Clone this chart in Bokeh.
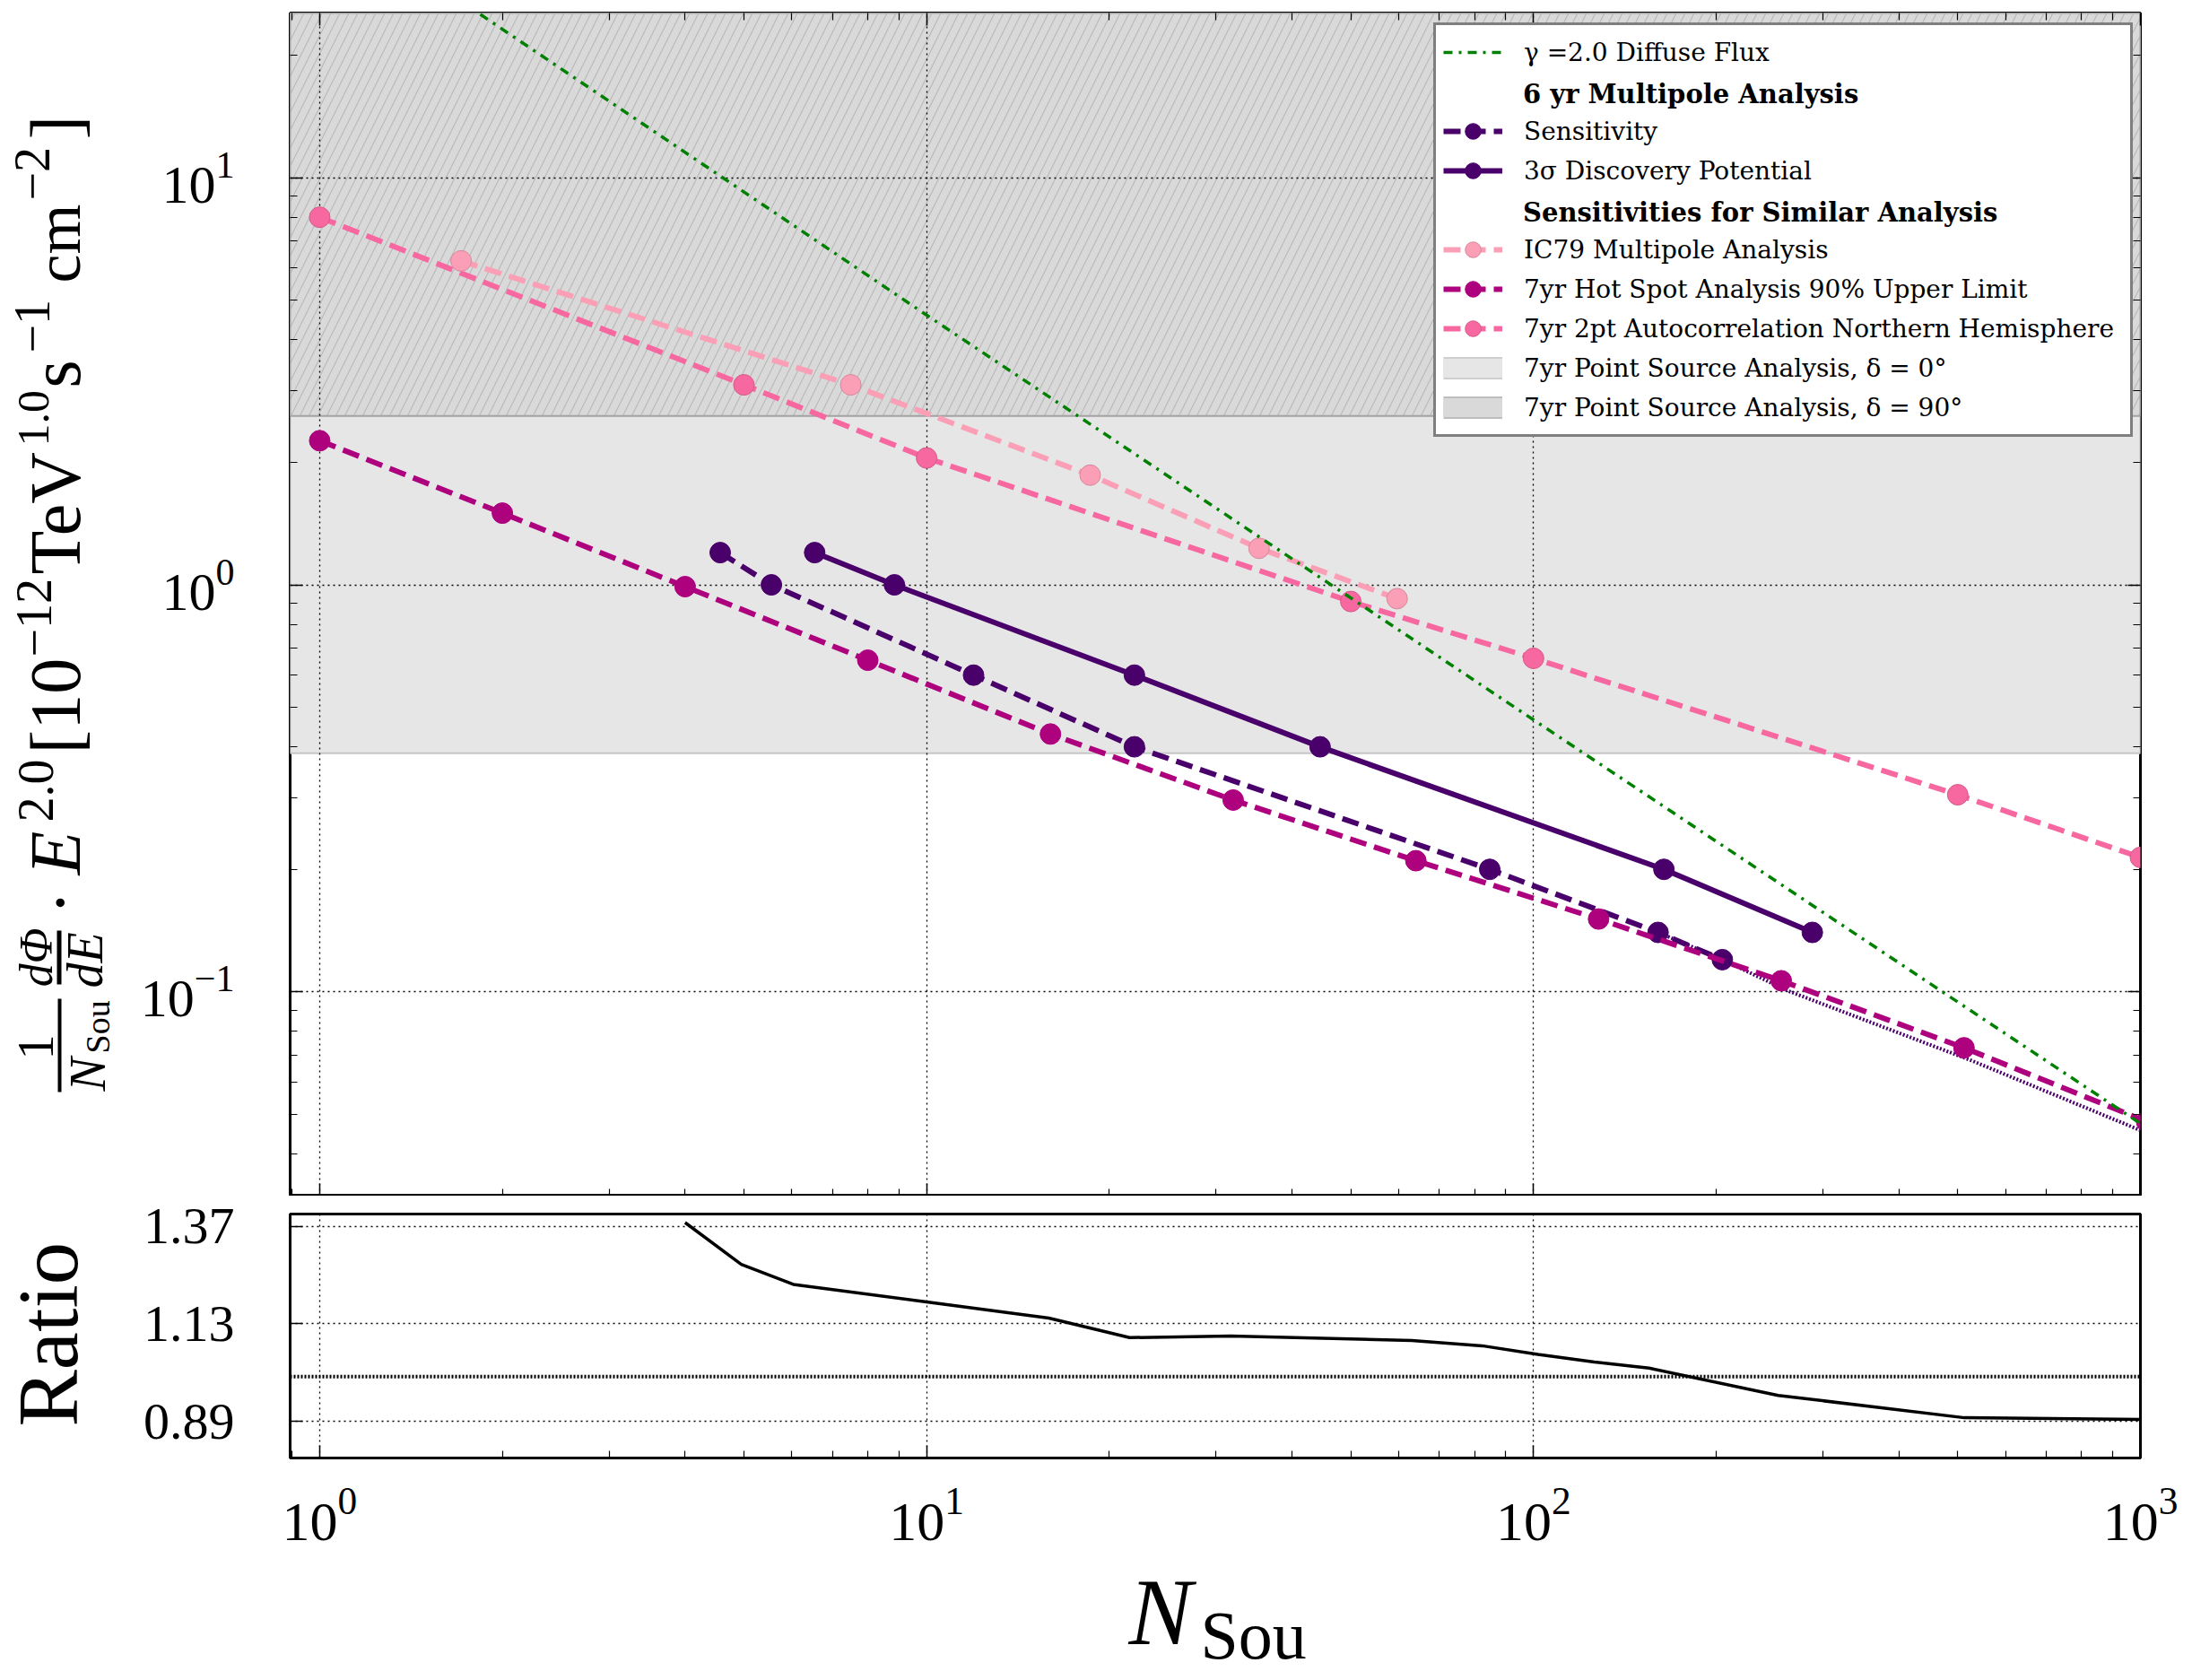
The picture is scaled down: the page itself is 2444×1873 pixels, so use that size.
import numpy as np
from bokeh.plotting import figure
from bokeh.models import (Range1d, FixedTicker, LogAxis, Legend, LegendItem,
                          Label, BoxAnnotation, Span)
from bokeh.layouts import column, row
from bokeh.embed import file_html
from bokeh.resources import INLINE

# ------------------------------------------------------------------ data
diffuse_n = [1, 10, 100, 1000]
diffuse_flux = [46.5, 4.6, 0.466, 0.0475]

sens_n = [4.57, 5.55, 11.95, 22.0, 84.7, 160.4, 204.7]
sens_flux = [1.2, 1.0, 0.6, 0.4, 0.2, 0.14, 0.12]
sens_ext_n = [160.4, 204.7, 263.0, 527.0, 1000.0]
sens_ext_flux = [0.14, 0.12, 0.1005, 0.0678, 0.0457]

disc_n = [6.54, 8.85, 22.0, 44.5, 164.0, 288.0]
disc_flux = [1.2, 1.0, 0.6, 0.4, 0.2, 0.14]

ic79_n = [1.71, 7.5, 18.6, 35.3, 59.6]
ic79_flux = [6.25, 3.10, 1.86, 1.23, 0.925]

hot_n = [1, 2, 4, 8, 16, 32, 64, 128, 256, 512, 1024]
hot_flux = [2.26, 1.50, 0.99, 0.653, 0.43, 0.296, 0.21, 0.151, 0.1065, 0.0729, 0.048]

twopt_n = [1, 5, 10, 50, 100, 500, 1000]
twopt_flux = [8.0, 3.10, 2.05, 0.91, 0.66, 0.305, 0.214]

ps0_flux = 0.386
ps90_flux = 2.6

ratio_n = [4.0, 4.95, 6.03, 10.0, 15.9, 21.6, 31.7, 63.0, 82.3, 101.7, 126.0, 155.0, 253.0, 513.0, 1000.0]
ratio_val = [1.379, 1.276, 1.227, 1.184, 1.144, 1.096, 1.100, 1.089, 1.076, 1.055, 1.036, 1.021, 0.954, 0.899, 0.895]
ratio_ref = 1.0

x_lim = (0.894, 1000.0)
y_lim = (0.0315, 25.4)
ratio_lim = (0.80, 1.40)
x_major = [1, 10, 100, 1000]
y_major = [0.1, 1, 10]
ratio_ticks = [0.89, 1.13, 1.37]
x_minor = [m * 10.0 ** e for e in range(-1, 3) for m in range(2, 10)]
y_minor = [m * 10.0 ** e for e in range(-2, 2) for m in range(2, 10)]

C_PURPLE = "#49006a"
C_HOT = "#ae017e"
C_2PT = "#f768a1"
C_IC79 = "#fa9fb5"
C_GREEN = "#008000"

SERIF = "Liberation Serif"
LEG_FONT = "DejaVu Serif"

LW = 130          # width of the column holding the rotated axis titles
MAIN_H = 1333
RATIO_H = 402
LEFT_H = MAIN_H + RATIO_H
XLAB_H = 135
TOTAL_W = 2436


def style_axis(ax, ticks, minor, labels=True, size="60px", standoff=10):
    ax.ticker = FixedTicker(ticks=ticks, minor_ticks=minor)
    ax.axis_line_color = None
    ax.major_tick_in = 14
    ax.major_tick_out = 0
    ax.minor_tick_in = 8
    ax.minor_tick_out = 0
    ax.major_tick_line_color = "black"
    ax.minor_tick_line_color = "black"
    ax.major_tick_line_width = 1.5
    ax.minor_tick_line_width = 1.2
    if labels:
        ax.major_label_text_font = SERIF
        ax.major_label_text_font_size = size
        ax.major_label_text_color = "black"
        ax.major_label_standoff = standoff
    else:
        ax.major_label_text_font_size = "1px"
        ax.major_label_text_alpha = 0.0
        ax.major_label_standoff = 0


def text_fig(w, h):
    f = figure(width=w, height=h, x_range=Range1d(0, w), y_range=Range1d(0, h),
               x_axis_location=None, y_axis_location=None, min_border=0,
               output_backend="svg", toolbar_location=None)
    f.grid.visible = False
    f.outline_line_color = None
    return f


def add_label(fig, text, x, y, size, style="normal", angle=0.0, align="left",
              font=SERIF):
    fig.add_layout(Label(x=x, y=y, text=text, text_font=font,
                         text_font_size=f"{size}px", text_font_style=style,
                         text_color="black", angle=angle, text_align=align,
                         text_baseline="middle"))


# ------------------------------------------------------------------ main plot
x_range = Range1d(*x_lim)
p = figure(width=TOTAL_W - LW, height=MAIN_H, x_axis_type="log", y_axis_type="log",
           x_range=x_range, y_range=Range1d(*y_lim),
           output_backend="svg", toolbar_location=None,
           min_border_left=323 - LW, min_border_right=50, min_border_top=14,
           min_border_bottom=0)
p.outline_line_color = "black"
p.outline_line_width = 3
p.outline_line_alpha = 1.0

style_axis(p.xaxis[0], x_major, x_minor, labels=False)
style_axis(p.yaxis[0], y_major, y_minor, labels=True, size="60px", standoff=62)
top_ax = LogAxis()
style_axis(top_ax, x_major, x_minor, labels=False)
p.add_layout(top_ax, "above")
right_ax = LogAxis()
style_axis(right_ax, y_major, y_minor, labels=False)
p.add_layout(right_ax, "right")

p.xgrid[0].ticker = FixedTicker(ticks=x_major)
p.ygrid[0].ticker = FixedTicker(ticks=y_major)
for g in (p.xgrid[0], p.ygrid[0]):
    g.grid_line_color = "black"
    g.grid_line_dash = "2 4"
    g.grid_line_width = 1.3
    g.grid_line_alpha = 1.0

# sensitivity bands of the point source analysis
band_x = [x_lim[0], x_lim[1], x_lim[1], x_lim[0]]
b0 = p.patch(x=band_x, y=[ps0_flux, ps0_flux, y_lim[1], y_lim[1]],
             fill_color="#e6e6e6", line_color="#c6c6c6", line_width=2)
b0.level = "image"
b90 = p.patch(x=band_x, y=[ps90_flux, ps90_flux, y_lim[1], y_lim[1]],
              fill_color="#d9d9d9", hatch_pattern="/", hatch_color="#b9b9b9",
              hatch_scale=20, hatch_weight=1.2, line_color="#a3a3a3", line_width=2)
b90.level = "image"

# series
r_ext = p.line(sens_ext_n, sens_ext_flux, line_color=C_PURPLE, line_width=4, line_dash="2 2")
r_sens_l = p.line(sens_n, sens_flux, line_color=C_PURPLE, line_width=6, line_dash="19 9")
r_sens_p = p.scatter(sens_n, sens_flux, size=23, color=C_PURPLE)
r_disc_l = p.line(disc_n, disc_flux, line_color=C_PURPLE, line_width=6)
r_disc_p = p.scatter(disc_n, disc_flux, size=23, color=C_PURPLE)
r_hot_l = p.line(hot_n, hot_flux, line_color=C_HOT, line_width=6, line_dash="19 9")
r_hot_p = p.scatter(hot_n, hot_flux, size=23, color=C_HOT)
r_2pt_l = p.line(twopt_n, twopt_flux, line_color=C_2PT, line_width=6, line_dash="19 9")
r_2pt_p = p.scatter(twopt_n, twopt_flux, size=23, fill_color=C_2PT, line_color="#d45a88")
r_ic_l = p.line(ic79_n, ic79_flux, line_color=C_IC79, line_width=6, line_dash="19 9")
r_ic_p = p.scatter(ic79_n, ic79_flux, size=23, fill_color=C_IC79, line_color="#d8889a")
r_diff = p.line(diffuse_n, diffuse_flux, line_color=C_GREEN, line_width=3.5, line_dash="10 7 3 7")

# legend-only samples
blank = p.line(x=[1], y=[1], line_alpha=0)
ps0_edge = p.line(x=[1], y=[1], line_color="#cfcfcf", line_width=25)
ps0_leg = p.line(x=[1], y=[1], line_color="#e6e6e6", line_width=21)
ps90_edge = p.line(x=[1], y=[1], line_color="#bdbdbd", line_width=25)
ps90_leg = p.line(x=[1], y=[1], line_color="#d9d9d9", line_width=21)

LEG_COMMON = dict(orientation="vertical", padding=8, spacing=0, margin=0,
                  glyph_width=66, glyph_height=44, label_height=44, label_standoff=24,
                  label_text_font=LEG_FONT, label_text_color="black")

items = [
    LegendItem(label="γ =2.0 Diffuse Flux", renderers=[r_diff]),
    LegendItem(label=" ", renderers=[blank]),
    LegendItem(label="Sensitivity", renderers=[r_sens_l, r_sens_p]),
    LegendItem(label="3σ Discovery Potential", renderers=[r_disc_l, r_disc_p]),
    LegendItem(label=" ", renderers=[blank]),
    LegendItem(label="IC79 Multipole Analysis", renderers=[r_ic_l, r_ic_p]),
    LegendItem(label="7yr Hot Spot Analysis 90% Upper Limit", renderers=[r_hot_l, r_hot_p]),
    LegendItem(label="7yr 2pt Autocorrelation Northern Hemisphere", renderers=[r_2pt_l, r_2pt_p]),
    LegendItem(label="7yr Point Source Analysis, δ = 0°", renderers=[ps0_edge, ps0_leg]),
    LegendItem(label="7yr Point Source Analysis, δ = 90°", renderers=[ps90_edge, ps90_leg]),
]
legend = Legend(items=items, location=(1275, 846), label_width=668,
                label_text_font_size="28px", border_line_color="black",
                border_line_width=3, background_fill_color="white",
                background_fill_alpha=1.0, **LEG_COMMON)
p.add_layout(legend)

# transparent overlay legend carrying the bold section headings on rows 2 and 5
head_items = [
    LegendItem(label=" ", renderers=[blank]),
    LegendItem(label="6 yr Multipole Analysis", renderers=[blank]),
    LegendItem(label=" ", renderers=[blank]),
    LegendItem(label=" ", renderers=[blank]),
    LegendItem(label="Sensitivities for Similar Analysis", renderers=[blank]),
]
head_legend = Legend(items=head_items, location=(1285, 1074), label_width=10,
                     label_text_font_size="29px", label_text_font_style="bold",
                     border_line_color=None, background_fill_alpha=0.0, **LEG_COMMON)
p.add_layout(head_legend)

# ------------------------------------------------------------------ left title column
# (x = distance from the page's left edge, y = distance from the top of the page)
A = np.pi / 2
lf = text_fig(LW, LEFT_H)
ylabel_parts = [
    ("1", 39, 1167, 56, "normal", "center"),
    ("N", 97, 1216, 56, "italic", "left"),
    ("Sou", 108, 1174, 38, "normal", "left"),
    ("dΦ", 40, 1067, 52, "italic", "center"),
    ("dE", 94, 1070, 56, "italic", "center"),
    ("·", 66, 1006, 80, "normal", "center"),
    ("E", 61, 975, 80, "italic", "left"),
    ("2.0", 39, 916, 56, "normal", "left"),
    ("[10", 61, 840, 80, "normal", "left"),
    ("−12", 37, 732, 56, "normal", "left"),
    ("TeV", 61, 640, 80, "normal", "left"),
    ("1.0", 37, 497, 50, "normal", "left"),
    ("s", 61, 432, 80, "normal", "left"),
    ("−1", 35, 393, 56, "normal", "left"),
    ("cm", 64, 315, 72, "normal", "left"),
    ("−2", 35, 223, 56, "normal", "left"),
    ("]", 61, 155, 80, "normal", "left"),
    ("Ratio", 53, 1590, 95, "normal", "left"),
]
for txt, lx, ly, fs, st, al in ylabel_parts:
    add_label(lf, txt, lx, LEFT_H - ly, fs, st, angle=A, align=al)
for (bl, br, bt, bb) in [(64, 68, 1113, 1217), (63, 68, 1037, 1097)]:
    lf.add_layout(BoxAnnotation(left=bl, right=br, top=LEFT_H - bt, bottom=LEFT_H - bb,
                                fill_color="black", fill_alpha=1.0, line_color=None))

# ------------------------------------------------------------------ ratio plot
r = figure(width=TOTAL_W - LW, height=RATIO_H, x_axis_type="log", x_range=x_range,
           y_range=Range1d(*ratio_lim), output_backend="svg", toolbar_location=None,
           min_border_left=323 - LW, min_border_right=50, min_border_top=20,
           min_border_bottom=RATIO_H - 20 - 272)
r.outline_line_color = "black"
r.outline_line_width = 3
style_axis(r.xaxis[0], x_major, x_minor, labels=True, size="62px", standoff=34)
style_axis(r.yaxis[0], ratio_ticks, [], labels=True, size="58px", standoff=62)
r.xgrid[0].ticker = FixedTicker(ticks=x_major)
r.ygrid[0].ticker = FixedTicker(ticks=ratio_ticks)
for g in (r.xgrid[0], r.ygrid[0]):
    g.grid_line_color = "black"
    g.grid_line_dash = "2 4"
    g.grid_line_width = 1.3
r.add_layout(Span(location=ratio_ref, dimension="width", line_color="black",
                  line_dash="2 2", line_width=4))
r.line(ratio_n, ratio_val, line_color="black", line_width=3.5)

xl = text_fig(TOTAL_W, XLAB_H)
add_label(xl, "N", 1258, 73, 106, "italic")
add_label(xl, "Sou", 1338, 48, 76)

layout = column(row(lf, column(p, r)), xl)
open("out.html", "w").write(file_html(layout, INLINE, "plot"))
